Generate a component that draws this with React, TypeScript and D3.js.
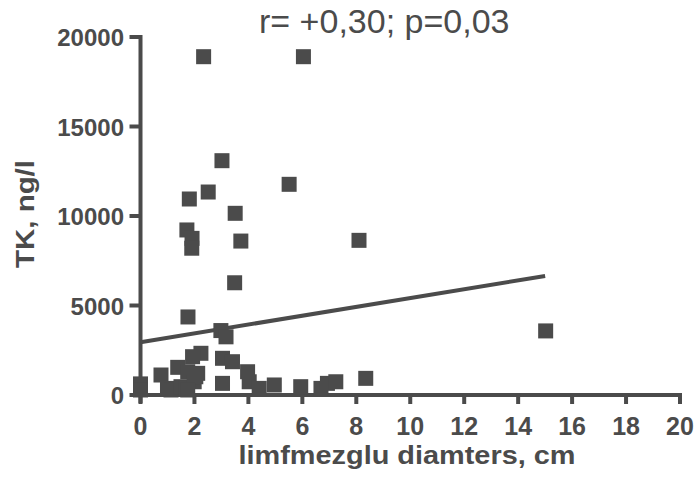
import React, { useEffect, useRef } from 'react'
import * as d3 from 'd3'

// lymph node diameter (cm) vs TK (ng/l)
const diameters = [
  2.34, 6.04, 3.02, 5.51, 2.51, 1.81, 3.51, 1.72, 1.91, 1.90, 3.72, 8.10, 3.49,
  1.76, 15.02, 2.98, 3.17, 2.24, 1.93, 1.38, 0.76, 1.75, 2.12, 3.04, 3.41,
  3.97, 3.04, 4.03, 4.40, 4.96, 5.94, 6.69, 6.93, 7.24, 8.35, 0, 0, 1.0,
  1.13, 1.50, 1.69, 1.99, 2.05, 1.75,
]
const tkValues = [
  18900, 18900, 13090, 11770, 11340, 10950, 10150, 9220, 8750, 8200, 8600, 8640, 6270,
  4360, 3580, 3600, 3250, 2330, 2140, 1545, 1117, 1300, 1210, 2050, 1860,
  1300, 650, 740, 370, 560, 465, 370, 650, 740, 930, 620, 280, 370,
  280, 465, 370, 740, 1020, 280,
]
const trendX = [0, 15]
const trendY = [2950, 6650]
const xTicks = [0, 2, 4, 6, 8, 10, 12, 14, 16, 18, 20]
const yTicks = [0, 5000, 10000, 15000, 20000]
const title = 'r= +0,30; p=0,03'
const xLabel = 'limfmezglu diamters, cm'
const yLabel = 'TK, ng/l'

const ink = '#4b4b4b'
const font = '"Liberation Sans", Arial, sans-serif'

const App = () => {
  const ref = useRef(null)

  useEffect(() => {
    const width = 696
    const height = 482

    d3.select(ref.current).selectAll('*').remove()

    const svg = d3.select(ref.current)
      .append('svg')
      .attr('width', width)
      .attr('height', height)
      .style('position', 'absolute')
      .style('left', 0)
      .style('top', 0)
      .style('background', '#fff')

    const xScale = d3.scaleLinear().domain([0, 20]).range([140.5, 680])
    const yScale = d3.scaleLinear().domain([0, 20000]).range([395, 37])

    // axes
    const axes = svg.append('g')
      .attr('stroke', ink)
      .attr('stroke-width', 4)
      .attr('fill', 'none')

    axes.append('line')
      .attr('x1', xScale(0)).attr('x2', xScale(0))
      .attr('y1', yScale(20000) - 2).attr('y2', yScale(0) + 8)
    axes.append('line')
      .attr('x1', xScale(0) - 10).attr('x2', xScale(20) + 2)
      .attr('y1', yScale(0)).attr('y2', yScale(0))

    axes.selectAll('.xt')
      .data(xTicks)
      .join('line')
      .attr('x1', d => xScale(d)).attr('x2', d => xScale(d))
      .attr('y1', yScale(0)).attr('y2', yScale(0) + 9)

    axes.selectAll('.yt')
      .data(yTicks)
      .join('line')
      .attr('x1', xScale(0) - 11).attr('x2', xScale(0))
      .attr('y1', d => yScale(d)).attr('y2', d => yScale(d))

    // tick labels
    svg.append('g')
      .selectAll('text')
      .data(xTicks)
      .join('text')
      .attr('x', d => xScale(d))
      .attr('y', 435)
      .attr('text-anchor', 'middle')
      .attr('fill', ink)
      .style('font-family', font)
      .style('font-weight', 'bold')
      .style('font-size', '25px')
      .text(d => d)

    svg.append('g')
      .selectAll('text')
      .data(yTicks)
      .join('text')
      .attr('x', 124)
      .attr('y', d => yScale(d) + 9)
      .attr('text-anchor', 'end')
      .attr('fill', ink)
      .style('font-family', font)
      .style('font-weight', 'bold')
      .style('font-size', '24px')
      .text(d => d)

    // axis titles
    svg.append('text')
      .attr('x', 407)
      .attr('y', 464)
      .attr('text-anchor', 'middle')
      .attr('fill', ink)
      .attr('textLength', 337)
      .attr('lengthAdjust', 'spacingAndGlyphs')
      .style('font-family', font)
      .style('font-weight', 'bold')
      .style('font-size', '25px')
      .text(xLabel)

    svg.append('text')
      .attr('transform', 'translate(34, 214) rotate(-90)')
      .attr('text-anchor', 'middle')
      .attr('fill', ink)
      .attr('textLength', 108)
      .attr('lengthAdjust', 'spacingAndGlyphs')
      .style('font-family', font)
      .style('font-weight', 'bold')
      .style('font-size', '25px')
      .text(yLabel)

    svg.append('text')
      .attr('x', 259)
      .attr('y', 33)
      .attr('fill', ink)
      .style('font-family', font)
      .style('font-size', '34px')
      .text(title)

    // trend line
    const line = d3.line()
      .x(d => xScale(d[0]))
      .y(d => yScale(d[1]))
    svg.append('path')
      .datum(trendX.map((x, i) => [x, trendY[i]]))
      .attr('d', line)
      .attr('stroke', ink)
      .attr('stroke-width', 4)
      .attr('fill', 'none')

    // points
    const size = 15
    svg.append('g')
      .selectAll('rect')
      .data(diameters.map((x, i) => [x, tkValues[i]]))
      .join('rect')
      .attr('x', d => xScale(d[0]) - size / 2)
      .attr('y', d => yScale(d[1]) - size / 2)
      .attr('width', size)
      .attr('height', size)
      .attr('fill', ink)
  }, [])

  return <div ref={ref}></div>
}

export default App
